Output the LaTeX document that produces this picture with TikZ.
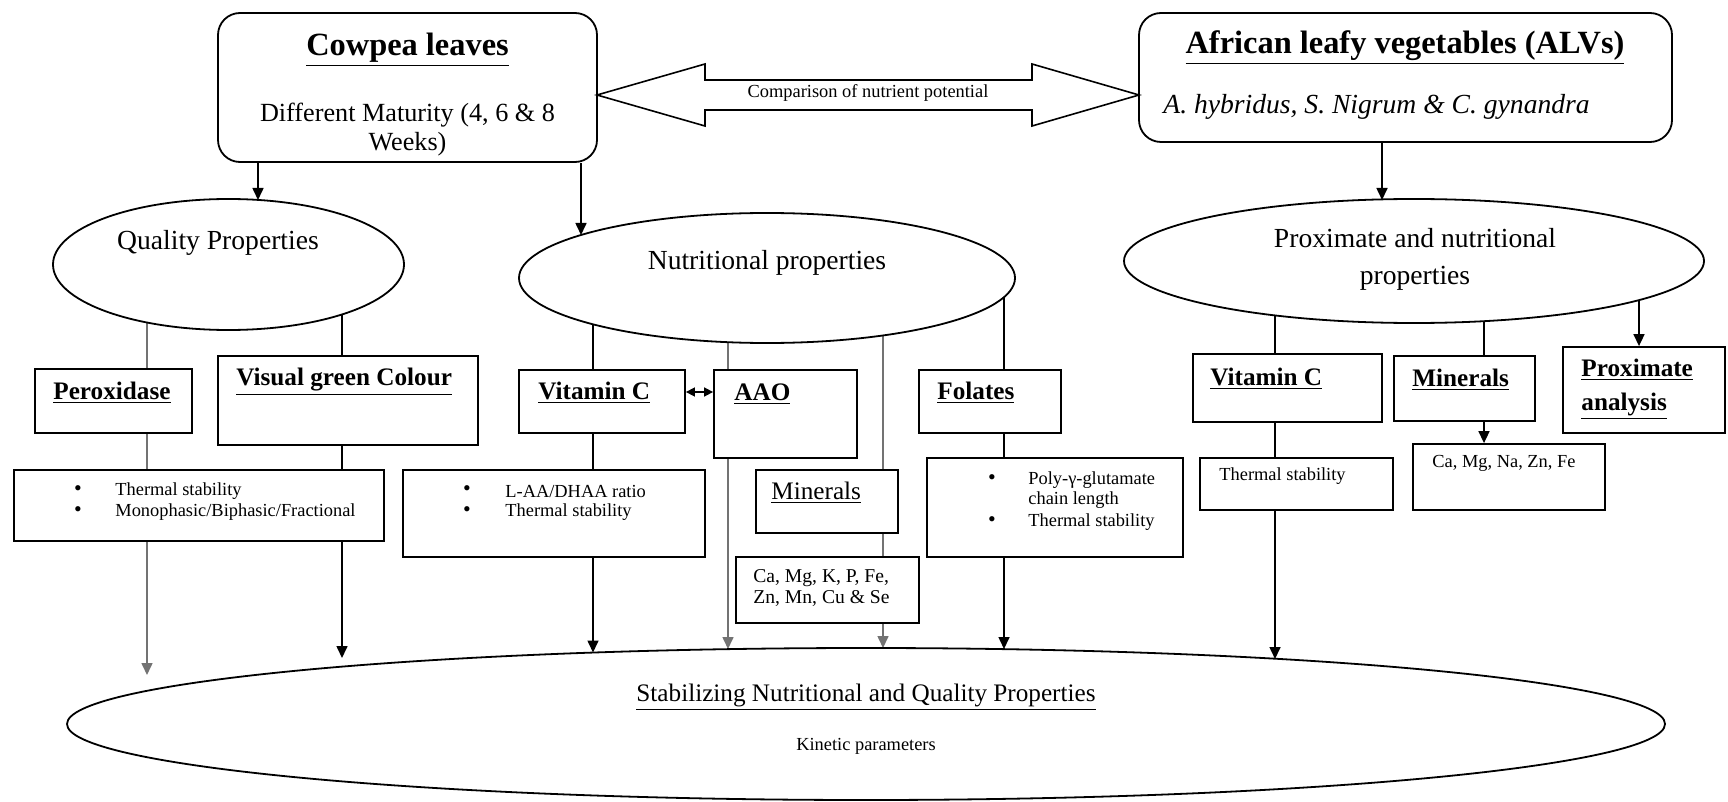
\documentclass[tikz,border=0pt]{standalone}
\usepackage{fontspec}
\setmainfont{Liberation Serif}
\usetikzlibrary{arrows.meta,backgrounds,fit,shapes.geometric}

\newcommand\FzTitle{\fontsize{16.2pt}{19pt}\selectfont\bfseries}
\newcommand\FzSub{\fontsize{13.1pt}{14.5pt}\selectfont}
\newcommand\FzIt{\fontsize{13.8pt}{16pt}\selectfont\itshape}
\newcommand\FzEll{\fontsize{13.8pt}{18.5pt}\selectfont}
\newcommand\FzLab{\fontsize{12.6pt}{17pt}\selectfont}
\newcommand\FzSmall{\fontsize{9.2pt}{10pt}\selectfont}
\newcommand\FzCa{\fontsize{9.8pt}{10.5pt}\selectfont}
\newcommand\FzBul{\fontsize{11pt}{10pt}\selectfont}

\tikzset{
  bx/.style={draw, fill=white, inner sep=0pt, line width=0.9pt},
  rbx/.style={bx, rounded corners=11pt},
  ell/.style={draw, fill=white, ellipse, inner sep=0pt, line width=0.9pt},
  txt/.style={inner sep=0pt, anchor=west},
  ctxt/.style={inner sep=0pt},
  conn/.style={line width=0.8pt},
  gconn/.style={conn, draw=black!55},
  arr/.style={-{Triangle[length=6pt,width=5.5pt]}},
  darr/.style={{Triangle[length=4.5pt,width=4.5pt]}-{Triangle[length=4.5pt,width=4.5pt]}},
}

\begin{document}
\begin{tikzpicture}[x=0.5pt, y=-0.5pt]
\path[use as bounding box] (0,0) rectangle (1728,802);

% top boxes
\node[rbx, fit={(218,13) (597,162)}] (cow) {};
\node[ctxt, font=\FzTitle] (cowT) at (407.5,50) {\underline{Cowpea leaves}};
\node[ctxt, font=\FzSub, align=center] (cowS) at (407.5,130) {Different Maturity (4, 6 \& 8\\Weeks)};

\node[rbx, fit={(1139,13) (1672,142)}] (alv) {};
\node[ctxt, font=\FzTitle] (alvT) at (1405,48) {\underline{African leafy vegetables (ALVs)}};
\node[txt, font=\FzIt] (alvS) at (1163,107) {A. hybridus, S. Nigrum \& C. gynandra};

% comparison double block arrow
\draw[fill=white, line width=0.8pt] (597,95) -- (705,64) -- (705,80) -- (1032,80) -- (1032,64) -- (1139,95)
  -- (1032,126) -- (1032,110) -- (705,110) -- (705,126) -- cycle;
\node[ctxt, font=\FzSmall] (cmp) at (868,93) {Comparison of nutrient potential};

% ellipses
\node[ell, minimum width=175.5pt, minimum height=65.5pt] (qual) at (228.5,264.5) {};
\node[ctxt, font=\FzEll] (qualT) at (218,243) {Quality Properties};
\node[ell, minimum width=248pt, minimum height=65pt] (nut) at (767,278) {};
\node[ctxt, font=\FzEll] (nutT) at (767,263) {Nutritional properties};
\node[ell, minimum width=290pt, minimum height=62pt] (prox) at (1414,261) {};
\node[ctxt, font=\FzEll, align=center] (proxT) at (1415,259) {Proximate and nutritional\\properties};
\node[ell, minimum width=799pt, minimum height=76pt] (stab) at (866,724) {};
\node[ctxt, font=\FzLab] (stabT) at (866,697) {\underline{Stabilizing Nutritional and Quality Properties}};
\node[ctxt, font=\FzSmall] (kin) at (866,746) {Kinetic parameters};

% left column
\node[bx, fit={(35,369) (192,433)}] (perox) {};
\node[txt, font=\FzLab\bfseries] (peroxT) at (53,393) {\underline{Peroxidase}};
\node[bx, fit={(218,356) (478,445)}] (vgc) {};
\node[txt, font=\FzLab\bfseries] (vgcT) at (236,382) {\underline{Visual green Colour}};
\node[bx, fit={(14,470) (384,541)}] (thL) {};
\node[ctxt, font=\FzBul] (thLb1) at (78,491) {•};
\node[ctxt, font=\FzBul] (thLb2) at (78,512) {•};
\node[txt, font=\FzSmall] (thL1) at (115,491) {Thermal stability};
\node[txt, font=\FzSmall] (thL2) at (115,512) {Monophasic/Biphasic/Fractional};

% middle column
\node[bx, fit={(519,370) (685,433)}] (vcM) {};
\node[txt, font=\FzLab\bfseries] (vcMT) at (538,393) {\underline{Vitamin C}};
\node[bx, fit={(714,370) (857,458)}] (aao) {};
\node[txt, font=\FzLab\bfseries] (aaoT) at (734,394) {\underline{AAO}};
\draw[conn, darr] (vcM.east |- 0,392) -- (aao.west |- 0,392);
\node[bx, fit={(403,470) (705,557)}] (laa) {};
\node[ctxt, font=\FzBul] (laab1) at (467,491) {•};
\node[ctxt, font=\FzBul] (laab2) at (467,512) {•};
\node[txt, font=\FzSmall] (laa1) at (505,491) {L-AA/DHAA ratio};
\node[txt, font=\FzSmall] (laa2) at (505,512) {Thermal stability};
\node[bx, fit={(756,470) (898,533)}] (minM) {};
\node[txt, font=\FzLab] (minMT) at (771,493) {\underline{Minerals}};
\node[bx, fit={(736,557) (919,623)}] (caM) {};
\node[txt, font=\FzCa, align=left] (caMT) at (753,588) {Ca, Mg, K, P, Fe,\\Zn, Mn, Cu \& Se};
\node[bx, fit={(919,370) (1061,433)}] (fol) {};
\node[txt, font=\FzLab\bfseries] (folT) at (937,393) {\underline{Folates}};
\node[bx, fit={(927,458) (1183,557)}] (poly) {};
\node[ctxt, font=\FzBul] (polyb1) at (992,480) {•};
\node[ctxt, font=\FzBul] (polyb2) at (992,522) {•};
\node[txt, font=\FzSmall] (poly1) at (1028,480) {Poly-γ-glutamate};
\node[txt, font=\FzSmall] (poly2) at (1028,500) {chain length};
\node[txt, font=\FzSmall] (poly3) at (1028,522) {Thermal stability};

% right column
\node[bx, fit={(1193,354) (1382,422)}] (vcR) {};
\node[txt, font=\FzLab\bfseries] (vcRT) at (1210,379) {\underline{Vitamin C}};
\node[bx, fit={(1200,458) (1393,510)}] (thR) {};
\node[txt, font=\FzSmall] (thRT) at (1219,476) {Thermal stability};
\node[bx, fit={(1394,356) (1535,421)}] (minR) {};
\node[txt, font=\FzLab\bfseries] (minRT) at (1412,380) {\underline{Minerals}};
\node[bx, fit={(1413,444) (1605,510)}] (caR) {};
\node[txt, font=\FzSmall] (caRT) at (1432,463) {Ca, Mg, Na, Zn, Fe};
\node[bx, fit={(1563,347) (1725,433)}] (pa) {};
\node[txt, font=\FzLab\bfseries, align=left] (paT) at (1581,389) {\underline{Proximate}\\\underline{analysis}};

% end coordinates
\coordinate (eA) at (147,675);
\coordinate (eB) at (342,658);
\coordinate (eC) at (593,652.5);
\coordinate (eD) at (728,649);
\coordinate (eE) at (883,648);
\coordinate (eF) at (1004,649);
\coordinate (eG) at (1275,659);
\coordinate (xH) at (1484,0);
\coordinate (xI) at (1639,0);
\coordinate (tQ) at (258,200);
\coordinate (tN) at (581,235);
\coordinate (tP) at (1382,200);

\begin{scope}[on background layer]
\draw[gconn, arr] (qual.center -| eA) -- (eA);
\draw[conn, arr] (qual.center -| eB) -- (eB);
\draw[conn, arr] (nut.center -| eC) -- (eC);
\draw[gconn, arr] (nut.center -| eD) -- (eD);
\draw[gconn, arr] (nut.center -| eE) -- (eE);
\draw[conn, arr] (nut.center -| eF) -- (eF);
\draw[conn, arr] (prox.center -| eG) -- (eG);
\draw[conn, arr] (prox.center -| xH) -- (caR.north -| xH);
\draw[conn, arr] (prox.center -| xI) -- (pa.north -| xI);
\draw[conn, arr] (cow.south -| tQ) -- (tQ);
\draw[conn, arr] (cow.south -| tN) -- (tN);
\draw[conn, arr] (alv.south -| tP) -- (tP);
\end{scope}
\end{tikzpicture}
\end{document}
